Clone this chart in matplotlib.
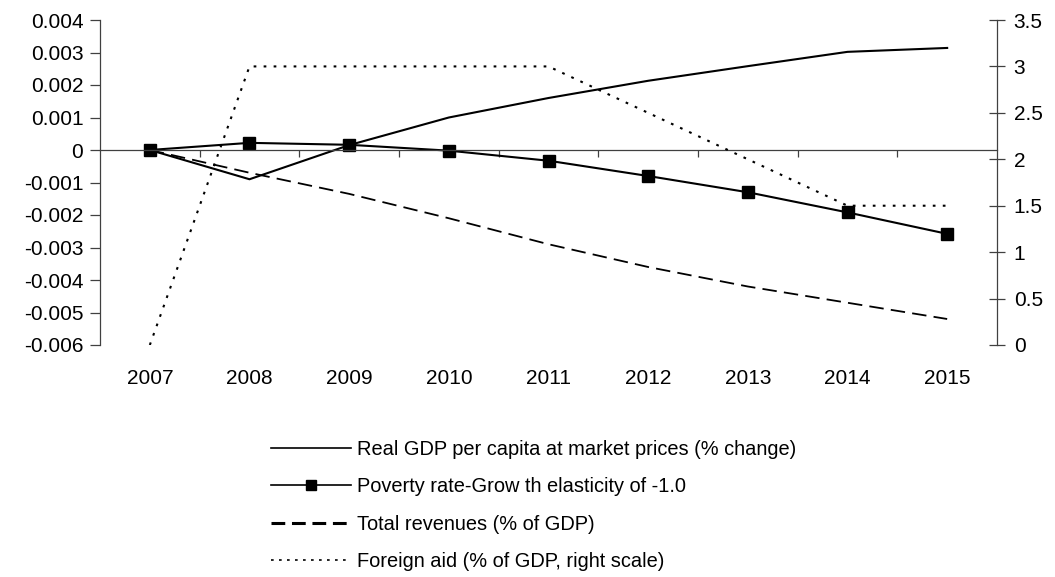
import matplotlib.pyplot as plt
from matplotlib.lines import Line2D

plt.rcParams['font.family'] = ['Liberation Sans', 'DejaVu Sans']

years = ['2007', '2008', '2009', '2010', '2011', '2012', '2013', '2014', '2015']
real_gdp = [0.0, -0.0009, 0.00015, 0.001, 0.0016, 0.00213, 0.00258, 0.00302, 0.00314]
poverty = [0.0, 0.00022, 0.00016, -0.00002, -0.00033, -0.0008, -0.0013, -0.00192, -0.00258]
revenues = [0.0, -0.0007, -0.00135, -0.0021, -0.0029, -0.0036, -0.0042, -0.0047, -0.0052]
foreign_aid = [0.0, 3.0, 3.0, 3.0, 3.0, 2.5, 2.0, 1.5, 1.5]

labels = ['Real GDP per capita at market prices (% change)',
          'Poverty rate-Grow th elasticity of -1.0',
          'Total revenues (% of GDP)',
          'Foreign aid (% of GDP, right scale)']

x = list(range(len(years)))
dash_style = (0, (8, 4))
dot_style = (0, (1.3, 3.5))

fig = plt.figure(figsize=(10.55, 5.77), dpi=100)
ax = fig.add_axes([100 / 1055, 1 - 345 / 577, 897 / 1055, 325 / 577])
ax2 = ax.twinx()

ax.plot(x, real_gdp, color='black', lw=1.5)
ax.plot(x, poverty, color='black', lw=1.5, marker='s', markersize=8)
ax.plot(x, revenues, color='black', lw=1.3, linestyle=dash_style)
ax2.plot(x, foreign_aid, color='black', lw=1.5, linestyle=dot_style)

ax.set_xlim(-0.5, len(years) - 0.5)
ax.set_ylim(-0.006, 0.004)
ax.set_yticks([0.004, 0.003, 0.002, 0.001, 0, -0.001, -0.002, -0.003, -0.004, -0.005, -0.006])
ax.set_yticklabels(['0.004', '0.003', '0.002', '0.001', '0', '-0.001', '-0.002',
                    '-0.003', '-0.004', '-0.005', '-0.006'])
ax2.set_ylim(0, 3.5)
ax2.set_yticks([0, 0.5, 1, 1.5, 2, 2.5, 3, 3.5])
ax2.set_yticklabels(['0', '0.5', '1', '1.5', '2', '2.5', '3', '3.5'])

for s in ['top', 'right']:
    ax.spines[s].set_visible(False)
for s in ['top', 'left', 'bottom']:
    ax2.spines[s].set_visible(False)
ax.spines['bottom'].set_position(('data', 0))
for a in (ax, ax2):
    for s in a.spines.values():
        s.set_color('#404040')
        s.set_linewidth(0.9)

ax.set_xticks([i + 0.5 for i in x[:-1]])
ax.set_xticklabels([])
ax.tick_params(axis='x', direction='out', length=5, width=0.9, color='#404040')
ax.tick_params(axis='y', direction='out', length=7, width=0.9, color='#404040',
               labelsize=15, pad=5)
ax2.tick_params(axis='y', direction='inout', length=12, width=0.9, color='#404040',
                labelsize=15, pad=6)

for i, yr in enumerate(years):
    ax.annotate(yr, xy=(i, 0), xycoords=('data', 'axes fraction'),
                xytext=(0, -17), textcoords='offset points',
                ha='center', va='top', fontsize=15)

handles = [
    Line2D([], [], color='black', lw=1.2),
    Line2D([], [], color='black', lw=1.2, marker='s', markersize=7),
    Line2D([], [], color='black', lw=2.2, linestyle=(0, (4.5, 2.2))),
    Line2D([], [], color='black', lw=1.2, linestyle=(0, (1.6, 3.2))),
]
fig.legend(handles, labels, loc='upper left', bbox_to_anchor=(271 / 1055, 1 - 440 / 577),
           frameon=False, fontsize=14.4, handlelength=4.0, handletextpad=0.3,
           labelspacing=0.92, borderpad=0, borderaxespad=0)

fig.savefig('out.png', dpi=100)
